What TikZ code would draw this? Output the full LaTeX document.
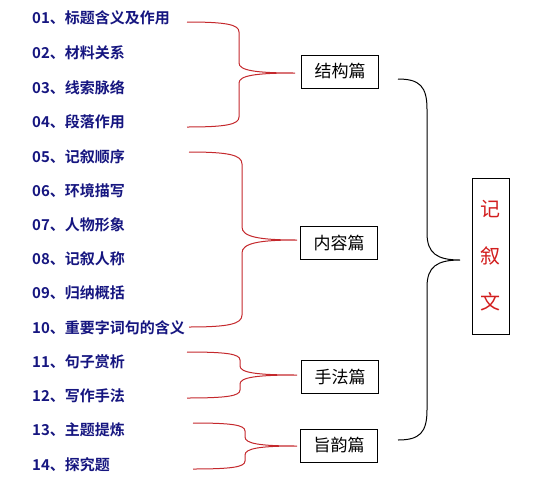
\documentclass[tikz,border=0pt]{standalone}
\usepackage{fontspec}
\newfontfamily\cjk{Noto Sans CJK SC}
\newfontfamily\cjkbold{Noto Sans CJK SC Bold}
\definecolor{itemblue}{RGB}{22,22,128}
\definecolor{bracered}{RGB}{196,40,44}
\definecolor{titlered}{RGB}{210,30,30}
% #1 style, #2 x of ends, #3 top y, #4 bottom y, #5 vertical x, #6 tip x, #7 tip y, #8 end radius, #9 tip radius
\newcommand\mybrace[9]{%
  \draw[#1] (#2,#3) .. controls ({#2+(#5-#2)*0.75},#3) and (#5,{#3+#8*0.25}) .. (#5,{#3+#8})
    -- (#5,{#7-#9}) .. controls (#5,{#7-#9*0.25}) and ({#5+(#6-#5)*0.3},#7) .. (#6,#7)
    .. controls ({#5+(#6-#5)*0.3},#7) and (#5,{#7+#9*0.25}) .. (#5,{#7+#9})
    -- (#5,{#4-#8}) .. controls (#5,{#4-#8*0.25}) and ({#2+(#5-#2)*0.75},#4) .. (#2,#4);}
\tikzset{
  item/.style={anchor=west, inner sep=0pt, text=itemblue, font=\cjkbold\fontsize{15}{16}\selectfont},
  catbox/.style={draw, line width=0.9pt, minimum width=77pt, minimum height=33pt, inner sep=0pt, font=\cjk\fontsize{17}{18}\selectfont},
  redbrace/.style={draw=bracered, line width=1pt},
  blackbrace/.style={draw=black, line width=1pt},
}
\begin{document}
\begin{tikzpicture}[x=1pt,y=-1pt]
\useasboundingbox (0,0) rectangle (550,491);
\node[item] (i01) at (32,18) {01、标题含义及作用};
\node[item] (i02) at (32,53) {02、材料关系};
\node[item] (i03) at (32,88) {03、线索脉络};
\node[item] (i04) at (32,122) {04、段落作用};
\node[item] (i05) at (32,157) {05、记叙顺序};
\node[item] (i06) at (32,191) {06、环境描写};
\node[item] (i07) at (32,225) {07、人物形象};
\node[item] (i08) at (32,259) {08、记叙人称};
\node[item] (i09) at (32,293) {09、归纳概括};
\node[item] (i10) at (32,328) {10、重要字词句的含义};
\node[item] (i11) at (32,362) {11、句子赏析};
\node[item] (i12) at (32,396) {12、写作手法};
\node[item] (i13) at (32,430) {13、主题提炼};
\node[item] (i14) at (32,465) {14、探究题};

\node[catbox] (jg) at (340,71.5) {结构篇};
\node[catbox] (nr) at (339,242.5) {内容篇};
\node[catbox] (sf) at (340,377) {手法篇};
\node[catbox] (zy) at (339,445.5) {旨韵篇};

\node[draw, line width=0.9pt, minimum width=37pt, minimum height=156pt, inner sep=0pt, align=center,
      text=titlered, font=\cjk\fontsize{20}{46.5}\selectfont] (jxw) at (490.5,256) {记\\叙\\文};

\mybrace{redbrace}{187}{22}{127}{239}{295}{73}{10}{10}
\mybrace{redbrace}{189}{152}{327}{242}{297}{240}{12}{13}
\mybrace{redbrace}{187}{352}{398}{240}{297}{375}{8}{9}
\mybrace{redbrace}{193}{423}{469}{245}{297}{446}{8}{9}
\mybrace{blackbrace}{398}{79}{440}{427}{460}{260}{30}{27}
\end{tikzpicture}
\end{document}
